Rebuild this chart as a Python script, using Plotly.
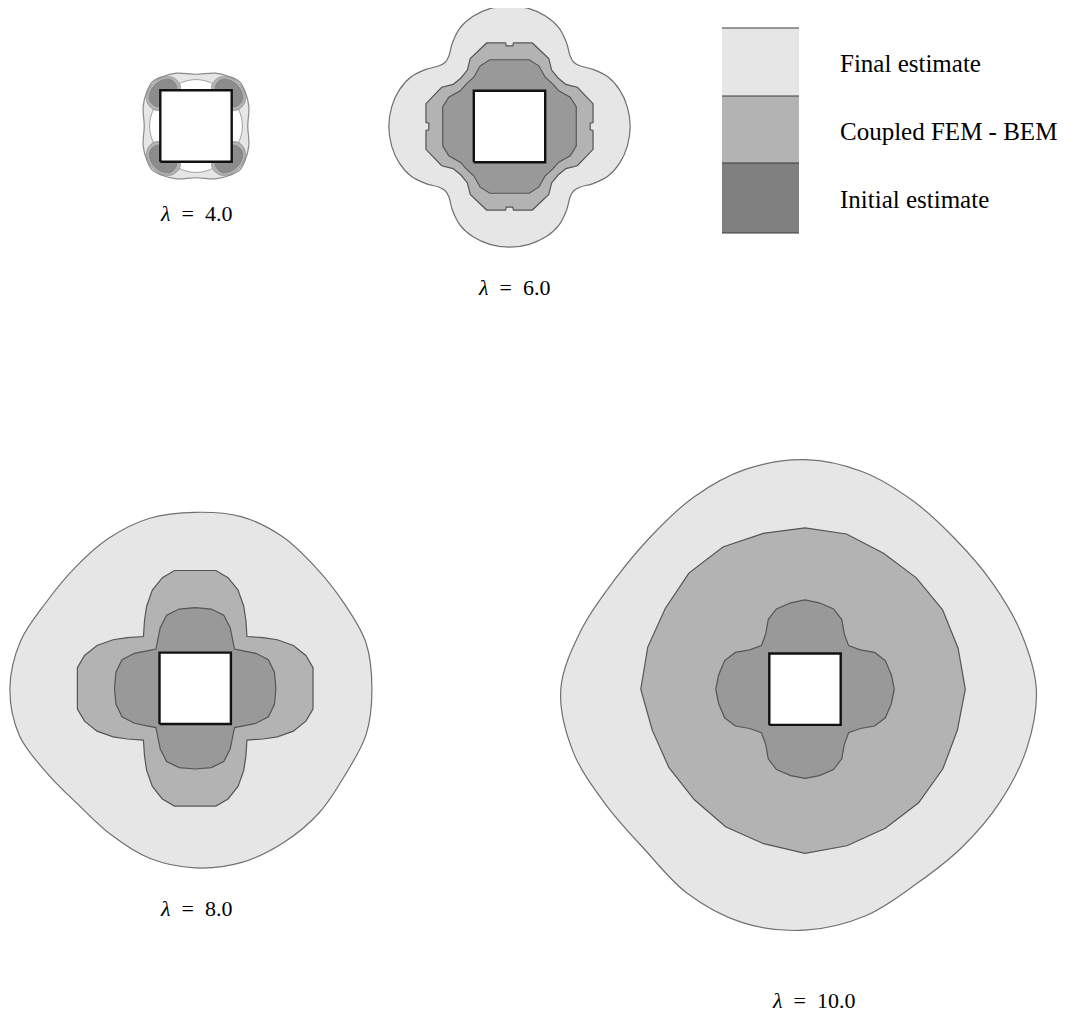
import plotly.graph_objects as go
import numpy as np

# page body has an 8px margin: figure is drawn 8px in from the window edge
OFF = 8
W, H = 1078 - OFF, 1016 - OFF

# ---------------- data ----------------
legend_labels = ["Final estimate", "Coupled FEM - BEM", "Initial estimate"]
legend_colors = ["#e6e6e6", "#b3b3b3", "#808080"]

lambda_values = ["4.0", "6.0", "8.0", "10.0"]

# opening (square) in units of its half-width a
square_x = [-1, 1, 1, -1, -1]
square_y = [-1, -1, 1, 1, -1]

# octant boundary vertices (x/a, y/a) from the +y axis to the 45 deg diagonal
l6_final_oct = [(0, 3.38), (0.55, 3.30), (1.02, 3.09), (1.38, 2.77), (1.60, 2.34), (1.70, 1.97), (1.80, 1.80)]
l6_coupled_oct = [(0, 2.26), (0.09, 2.26), (0.11, 2.34), (0.64, 2.34), (1.10, 1.90), (1.18, 1.58), (1.36, 1.36)]
l6_initial_oct = [(0, 1.87), (0.55, 1.87), (0.82, 1.70), (1.00, 1.38), (1.20, 1.20)]

l8_coupled_oct = [(0, 3.30), (0.58, 3.30), (0.92, 3.10), (1.20, 2.75), (1.36, 2.30), (1.42, 1.90), (1.45, 1.45)]
l8_initial_oct = [(0, 2.26), (0.45, 2.22), (0.80, 2.05), (0.98, 1.70), (1.05, 1.35), (1.10, 1.10)]

l10_initial_oct = [(0, 2.50), (0.40, 2.42), (0.80, 2.25), (1.03, 1.95), (1.10, 1.55), (1.22, 1.22)]

l4_final_oct = [(0, 1.45), (0.55, 1.48), (0.95, 1.38), (1.23, 1.23)]
# white lens between opening side and the final-estimate band (top side, rotated to 4 sides)
l4_lens_side = [(-0.75, 1.0), (-0.4, 1.22), (0, 1.3), (0.4, 1.22), (0.75, 1.0)]
# corner blobs (upper-right corner, mirrored to 4 corners)
l4_coupled_corner = [(0.45, 1.0), (0.47, 1.2), (0.68, 1.37), (1.02, 1.33), (1.33, 1.02), (1.37, 0.68), (1.2, 0.47), (1.0, 0.45)]
l4_initial_corner = [(0.55, 1.0), (0.56, 1.15), (0.72, 1.30), (1.0, 1.26), (1.26, 1.0), (1.30, 0.72), (1.15, 0.56), (1.0, 0.55)]

# polar radii (r/a) at 15 deg steps, theta = 0 (east), counter-clockwise
polar_deg = list(range(0, 360, 15))
l8_final_r = [4.95, 4.95, 4.80, 4.78, 4.90, 4.98, 4.93, 4.93, 4.85, 4.77, 4.82, 5.07,
              5.19, 5.10, 4.78, 4.62, 4.73, 4.93, 5.03, 5.05, 4.98, 4.92, 4.85, 4.96]
l10_final_r = [6.48, 6.25, 6.03, 5.95, 6.08, 6.30, 6.43, 6.38, 6.22, 6.08, 6.15, 6.48,
               6.84, 6.73, 6.45, 6.35, 6.60, 6.77, 6.75, 6.57, 6.28, 6.24, 6.31, 6.43]
l10_coupled_r = [4.49, 4.44, 4.45, 4.41, 4.40, 4.50, 4.52, 4.52, 4.60, 4.60, 4.52, 4.56,
                 4.60, 4.43, 4.40, 4.38, 4.45, 4.48, 4.60, 4.54, 4.50, 4.50, 4.46, 4.42]

# ---------------- helpers ----------------
def from_octant(pts):
    q = list(pts) + [(y, x) for (x, y) in reversed(pts[:-1])]
    right = q + [(x, -y) for (x, y) in reversed(q[:-1])]
    full = right + [(-x, y) for (x, y) in reversed(right[:-1])]
    return [p[0] for p in full], [p[1] for p in full]

def from_polar(radii):
    th = np.deg2rad(polar_deg + [polar_deg[0]])
    r = np.array(list(radii) + [radii[0]])
    return list(r * np.cos(th)), list(r * np.sin(th))

def mirror4(pts, sx, sy):
    xs = [sx * p[0] for p in pts] + [sx * pts[0][0]]
    ys = [sy * p[1] for p in pts] + [sy * pts[0][1]]
    return xs, ys

def rot_side(pts, k):
    c, s = [(1, 0), (0, 1), (-1, 0), (0, -1)][k]
    xs = [c * x - s * y for x, y in pts] + [c * pts[0][0] - s * pts[0][1]]
    ys = [s * x + c * y for x, y in pts] + [s * pts[0][0] + c * pts[0][1]]
    return xs, ys

FINAL, COUPLED, INITIAL = "#e6e6e6", "#b3b3b3", "#999999"
EDGE = "#707070"
EDGE_IN = "#555555"

fig = go.Figure()

def add_zone(xs, ys, color, ax, edge=EDGE, width=1.2, shape="linear"):
    fig.add_trace(go.Scatter(x=xs, y=ys, mode="lines", fill="toself", fillcolor=color,
                             line=dict(color=edge, width=width, shape=shape),
                             xaxis="x" + ax, yaxis="y" + ax, hoverinfo="skip", showlegend=False))

def add_square(ax):
    fig.add_trace(go.Scatter(x=square_x, y=square_y, mode="lines", fill="toself", fillcolor="white",
                             line=dict(color="#111111", width=2.4),
                             xaxis="x" + ax, yaxis="y" + ax, hoverinfo="skip", showlegend=False))

# lambda = 4
ax = "1"
x, y = from_octant(l4_final_oct)
add_zone(x, y, FINAL, ax, edge="#8a8a8a", shape="spline")
for k in range(4):
    x, y = rot_side(l4_lens_side, k)
    add_zone(x, y, "white", ax, edge="#a0a0a0", width=1.0, shape="spline")
for sx in (1, -1):
    for sy in (1, -1):
        x, y = mirror4(l4_coupled_corner, sx, sy)
        add_zone(x, y, COUPLED, ax, edge="#8a8a8a", width=0.8, shape="spline")
        x, y = mirror4(l4_initial_corner, sx, sy)
        add_zone(x, y, "#8c8c8c", ax, edge="#777777", width=0.6, shape="spline")
add_square(ax)

# lambda = 6
ax = "2"
x, y = from_octant(l6_final_oct)
add_zone(x, y, FINAL, ax, shape="spline")
x, y = from_octant(l6_coupled_oct)
add_zone(x, y, COUPLED, ax, edge=EDGE_IN)
x, y = from_octant(l6_initial_oct)
add_zone(x, y, INITIAL, ax, edge=EDGE_IN)
add_square(ax)

# lambda = 8
ax = "3"
x, y = from_polar(l8_final_r)
add_zone(x, y, FINAL, ax, shape="spline")
x, y = from_octant(l8_coupled_oct)
add_zone(x, y, COUPLED, ax, edge=EDGE_IN)
x, y = from_octant(l8_initial_oct)
add_zone(x, y, INITIAL, ax, edge=EDGE_IN)
add_square(ax)

# lambda = 10
ax = "4"
x, y = from_polar(l10_final_r)
add_zone(x, y, FINAL, ax, shape="spline")
x, y = from_polar(l10_coupled_r)
add_zone(x, y, COUPLED, ax, edge=EDGE_IN)
x, y = from_octant(l10_initial_oct)
add_zone(x, y, INITIAL, ax, edge=EDGE_IN)
add_square(ax)

# ---------------- layout ----------------
A = 35.7  # px per unit (half-width of opening)
panels = [  # center x, center y, half-width, half-height up, half-height down (window px)
    (196, 126, 70, 70, 70),
    (509.5, 126.5, 128, 118.5, 128),
    (195.2, 688.3, 187, 195, 195),
    (805, 689.2, 260, 260, 260),
]
layout = dict(width=W, height=H, margin=dict(l=0, r=0, t=0, b=0),
              paper_bgcolor="white", plot_bgcolor="rgba(0,0,0,0)", showlegend=False)
for i, (cx, cy, hx, hu, hd) in enumerate(panels, start=1):
    k = "" if i == 1 else str(i)
    cx, cy = cx - OFF, cy - OFF
    layout["xaxis" + k] = dict(domain=[(cx - hx) / W, (cx + hx) / W], range=[-hx / A, hx / A],
                               visible=False, fixedrange=True, anchor="y" + k)
    layout["yaxis" + k] = dict(domain=[1 - (cy + hd) / H, 1 - (cy - hu) / H], range=[-hd / A, hu / A],
                               visible=False, fixedrange=True, anchor="x" + k)
fig.update_layout(**layout)

def px(xp, yp):
    return (xp - OFF) / W, 1 - (yp - OFF) / H

# legend boxes
box_x0, box_x1 = 722, 799
box_edges = [28, 96, 163, 233]
shapes = []
for i, col in enumerate(legend_colors):
    x0, y0 = px(box_x0, box_edges[i + 1])
    x1, y1 = px(box_x1, box_edges[i])
    shapes.append(dict(type="rect", xref="paper", yref="paper", x0=x0, x1=x1, y0=y0, y1=y1,
                       fillcolor=col, line=dict(width=0), layer="above"))
for e in box_edges:
    x0, yy = px(box_x0, e)
    x1, _ = px(box_x1, e)
    shapes.append(dict(type="line", xref="paper", yref="paper", x0=x0, x1=x1, y0=yy, y1=yy,
                       line=dict(color="#3a3a3a", width=1.2), layer="above"))
fig.update_layout(shapes=shapes)

annotations = []
label_y = [63, 131, 199]
for lab, ly in zip(legend_labels, label_y):
    xx, yy = px(838, ly)
    annotations.append(dict(text=lab, x=xx, y=yy, xref="paper", yref="paper", xanchor="left",
                            yanchor="middle", showarrow=False,
                            font=dict(family="Liberation Serif", size=25, color="black")))

lam_pos = [(196, 214), (514, 287), (196, 908), (813, 1000)]
for val, (lx, ly) in zip(lambda_values, lam_pos):
    xx, yy = px(lx, ly)
    annotations.append(dict(text="<i>λ</i>\u2002=\u2002" + val, x=xx, y=yy, xref="paper", yref="paper",
                            xanchor="center", yanchor="middle", showarrow=False,
                            font=dict(family="Liberation Serif", size=22, color="black")))
fig.update_layout(annotations=annotations)

fig.write_html("out.html")
